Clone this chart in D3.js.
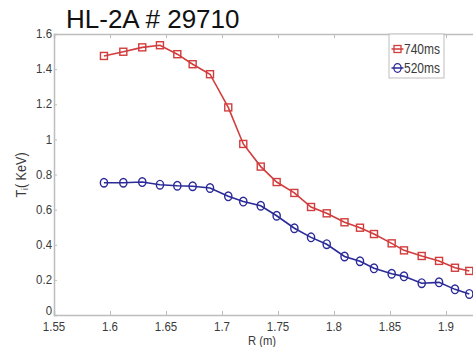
<!DOCTYPE html>
<html><head><meta charset="utf-8">
<script src="https://cdn.jsdelivr.net/npm/d3@7"></script>
<style>
html,body{margin:0;padding:0;background:#fff;overflow:hidden}
text{font-family:"Liberation Sans",Arial,sans-serif}
</style></head>
<body><svg id="c" width="473" height="347"></svg>
<script>
const title = "HL-2A # 29710";
const rValues = [1.5946,1.6119,1.6288,1.6446,1.6601,1.6738,1.6893,1.7056,1.719,1.7346,1.7488,1.7646,1.7795,1.7935,1.8094,1.8232,1.8357,1.8515,1.8625,1.8783,1.8938,1.908,1.9208];
const ti740 = [1.475,1.499,1.524,1.536,1.485,1.428,1.371,1.182,0.974,0.845,0.757,0.695,0.615,0.579,0.528,0.497,0.461,0.408,0.368,0.336,0.308,0.269,0.251];
const ti520 = [0.753,0.753,0.757,0.742,0.736,0.733,0.723,0.676,0.646,0.622,0.565,0.494,0.442,0.403,0.333,0.306,0.266,0.235,0.220,0.181,0.186,0.146,0.120];
const xTicks = [1.55,1.6,1.65,1.7,1.75,1.8,1.85,1.9];
const xTickLabels = ["1.55","1.6","1.65","1.7","1.75","1.8","1.85","1.9"];
const yTicks = [0,0.2,0.4,0.6,0.8,1,1.2,1.4,1.6];
const yTickLabels = ["0","0.2","0.4","0.6","0.8","1","1.2","1.4","1.6"];
const seriesNames = ["740ms","520ms"];

const svg = d3.select("#c");
const x = d3.scaleLinear().domain([1.55,1.95]).range([54,502]);
const y = d3.scaleLinear().domain([0,1.6]).range([315,34]);
const axisCol = "#bdbdbd", labCol = "#3a3a3a";
const red = "#d23c3c", blue = "#2a2a98";

function ctext(g, tx, ty, str, size, anchor, sx){
  const t = g.append("g").attr("transform",`translate(${tx},${ty}) scale(${sx},1)`)
    .append("text").attr("x",0).attr("y",0).attr("font-size",size).attr("fill",labCol)
    .attr("text-anchor",anchor).attr("dominant-baseline","central").text(str);
  return t;
}

// axes
const axB = svg.append("g").attr("transform","translate(0,315)")
  .call(d3.axisBottom(x).tickValues(xTicks).tickSize(-4).tickFormat(""));
const axT = svg.append("g").attr("transform","translate(0,34)")
  .call(d3.axisTop(x).tickValues(xTicks).tickSize(-4).tickFormat(""));
const axL = svg.append("g").attr("transform","translate(54,0)")
  .call(d3.axisLeft(y).tickValues(yTicks).tickSize(-3).tickFormat(""));
[axB,axT,axL].forEach(g=>{
  g.selectAll("path.domain").attr("stroke",axisCol).attr("stroke-width",1.5);
  g.selectAll(".tick line").attr("stroke",axisCol).attr("stroke-width",1);
});

xTicks.forEach((v,i)=>ctext(svg, x(v), 326.5, xTickLabels[i], 13.5, "middle", 0.85));
yTicks.forEach((v,i)=>ctext(svg, 52, y(v) - (v===0 ? 4 : 0), yTickLabels[i], 13, "end", 0.88));

// title
svg.append("text").attr("x",66).attr("y",28).attr("font-size",26).attr("fill","#111").text(title);

// axis labels
ctext(svg, 248, 341, "R (m)", 12.5, "start", 0.9);
const yl = svg.append("g").attr("transform","translate(21,175) rotate(-90) scale(0.9,1)");
const ylt = yl.append("text").attr("text-anchor","middle").attr("dominant-baseline","central")
  .attr("font-size",14).attr("fill",labCol);
ylt.append("tspan").text("T");
ylt.append("tspan").attr("font-size",9).attr("dy",4).text("i");
ylt.append("tspan").attr("dy",-4).text("( KeV)");

const line = d3.line().x(d=>x(d[0])).y(d=>y(d[1]));
const d740 = rValues.map((r,i)=>[r,ti740[i]]);
const d520 = rValues.map((r,i)=>[r,ti520[i]]);

svg.append("path").datum(d740).attr("d",line).attr("fill","none").attr("stroke",red).attr("stroke-width",1.6);
svg.selectAll("rect.m740").data(d740).enter().append("rect").attr("class","m740")
  .attr("x",d=>x(d[0])-3.5).attr("y",d=>y(d[1])-3.5).attr("width",7).attr("height",7)
  .attr("fill","none").attr("stroke",red).attr("stroke-width",1.4);

svg.append("path").datum(d520).attr("d",line).attr("fill","none").attr("stroke",blue).attr("stroke-width",1.6);
svg.selectAll("ellipse.m520").data(d520).enter().append("ellipse").attr("class","m520")
  .attr("cx",d=>x(d[0])).attr("cy",d=>y(d[1])).attr("rx",3.6).attr("ry",4.3)
  .attr("fill","none").attr("stroke",blue).attr("stroke-width",1.4);

// legend
const lg = svg.append("g");
lg.append("rect").attr("x",389).attr("y",34).attr("width",55).attr("height",44)
  .attr("fill","#fff").attr("stroke",axisCol).attr("stroke-width",1);
const ly = [49,68];
[[red,"rect"],[blue,"ellipse"]].forEach((s,i)=>{
  lg.append("line").attr("x1",391.5).attr("x2",403.5).attr("y1",ly[i]).attr("y2",ly[i])
    .attr("stroke",s[0]).attr("stroke-width",1.5);
  if(s[1]==="rect") lg.append("rect").attr("x",394).attr("y",ly[i]-3.5).attr("width",7).attr("height",7)
    .attr("fill","none").attr("stroke",s[0]).attr("stroke-width",1.3);
  else lg.append("ellipse").attr("cx",397.5).attr("cy",ly[i]).attr("rx",3.6).attr("ry",4.3)
    .attr("fill","none").attr("stroke",s[0]).attr("stroke-width",1.3);
  ctext(lg, 404, ly[i], seriesNames[i], 15, "start", 0.8);
});
</script></body></html>
